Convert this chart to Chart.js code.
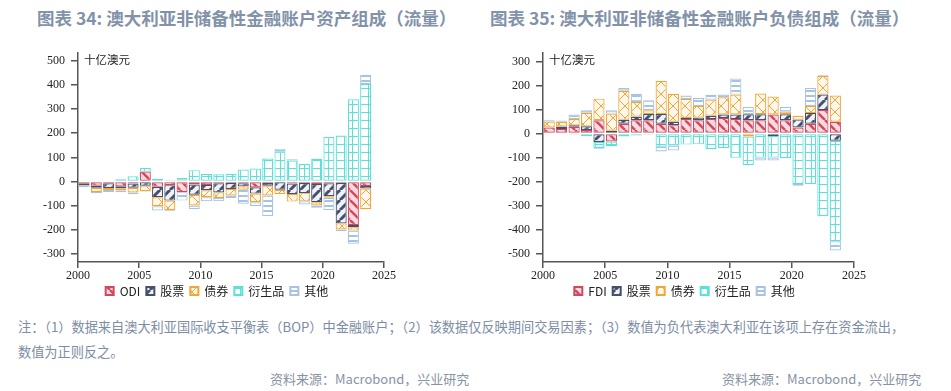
<!DOCTYPE html>
<html>
<head>
<meta charset="utf-8">
<script src="https://cdn.jsdelivr.net/npm/chart.js@4/dist/chart.umd.min.js"></script>
<style>
  body { margin: 0; width: 951px; height: 391px; background: #fff; position: relative; overflow: hidden;
         font-family: 'Noto Sans CJK SC', 'Noto Sans', sans-serif; }
  .title { position: absolute; top: 5px; font-size: 17.5px; font-weight: bold; color: #8192a9; white-space: nowrap; }
  .box { position: absolute; top: 40px; }
  .note { position: absolute; left: 18px; font-size: 13.2px; color: #7c8da4; white-space: nowrap; }
  .src { position: absolute; top: 369px; font-size: 13px; color: #8893a4; white-space: nowrap; }
</style>
</head>
<body>
<div class="title" style="left:37px">图表 34: 澳大利亚非储备性金融账户资产组成（流量）</div>
<div class="title" style="left:490px">图表 35: 澳大利亚非储备性金融账户负债组成（流量）</div>
<div class="box" style="left:0; width:434px; height:267px"><canvas id="chartAssets"></canvas></div>
<div class="box" style="left:475px; width:420px; height:267px"><canvas id="chartLiabs"></canvas></div>
<div class="note" style="top:317px">注：（1）数据来自澳大利亚国际收支平衡表（BOP）中金融账户；（2）该数据仅反映期间交易因素；（3）数值为负代表澳大利亚在该项上存在资金流出，</div>
<div class="note" style="top:342px">数值为正则反之。</div>
<div class="src" style="left:270px">资料来源：Macrobond，兴业研究</div>
<div class="src" style="left:722px">资料来源：Macrobond，兴业研究</div>
<script>
const years = [2000, 2001, 2002, 2003, 2004, 2005, 2006, 2007, 2008, 2009, 2010, 2011,
               2012, 2013, 2014, 2015, 2016, 2017, 2018, 2019, 2020, 2021, 2022, 2023];

// 资产 (十亿澳元)
const assetODI    = [-7, -17, -7, -20, -8, 41, -22, -15, -44, -12, -14, -7, -6, -7, -24, -6, -3, -8, -6, -10, -7, -6, -180, -18];
const assetEquity = [-8, -9, -20, -8, -18, -17, -43, -64, 4, -43, -22, -38, -25, -13, -26, -11, -31, -44, -42, -76, -54, -167, -9, -11];
const assetBond   = [-3, -17, -8, -9, -19, -23, -37, -40, 3, -44, -29, -23, -27, -14, -36, -41, -18, -31, -34, -13, -6, -25, -14, -86];
const assetDeriv  = [2, 4, 3, 9, 22, 16, 12, 5, 8, 47, 31, 30, 32, 50, 54, 95, 125, 87, 73, 94, 184, 190, 340, 404];
const assetOther  = [-6, -5, -8, -7, -8, -2, -18, -4, -35, -15, -17, -14, -10, -58, -15, -85, 11, 5, -13, -9, -52, -8, -54, 38];

// 负债 (十亿澳元)
const liabFDI    = [25, 19, 28, 15, 55, -33, 41, 55, 55, 41, 35, 60, 55, 60, 65, 60, 55, 55, 79, 55, 25, 41, 98, 49];
const liabEquity = [0, 10, 6, 15, -35, 12, 16, 15, 26, 40, 14, 5, 11, 14, 14, 19, 25, 25, -10, 25, 33, 44, 64, -30];
const liabBond   = [25, 20, 26, 56, 90, 71, 121, 61, 16, 138, 116, 79, 49, 67, 72, 83, -12, 86, 75, 11, 16, 30, 78, 109];
const liabDeriv  = [3, 0, -5, -10, -25, -20, -12, -8, -5, -55, -50, -46, -45, -64, -60, -101, -119, -100, -90, -103, -210, -210, -343, -418];
const liabOther  = [4, 5, 19, 11, -3, 14, 11, 34, 41, -20, -20, 14, 33, 20, 11, 67, 30, -12, -12, 20, -7, 74, 4, -38];

const tickFont = { family: "'Liberation Serif', 'DejaVu Serif', serif", size: 12 };
const cjkFont = { family: "'Noto Sans CJK SC', sans-serif", size: 12 };

// hatch fills
function makePattern(size, bg, stroke, width, draw) {
    const c = document.createElement('canvas');
    c.width = size; c.height = size;
    const g = c.getContext('2d');
    g.fillStyle = bg;
    g.fillRect(0, 0, size, size);
    g.strokeStyle = stroke;
    g.lineWidth = width;
    g.beginPath();
    draw(g, size);
    g.stroke();
    return g.createPattern(c, 'repeat');
}

const colors = {
    red: '#d2495e', navy: '#44506c', orange: '#f3a634', teal: '#58e2d8', blue: '#a6c3e3'
};

const fills = {
    red: makePattern(10, '#f6dbe0', colors.red, 2.5, (g, s) => {
        for (const o of [-s, 0, s]) { g.moveTo(o, 0); g.lineTo(o + s, s); }
    }),
    navy: makePattern(10, '#f1f2f5', colors.navy, 3, (g, s) => {
        for (const o of [-s, 0, s]) { g.moveTo(o, s); g.lineTo(o + s, 0); }
    }),
    orange: makePattern(12, '#fff7ec', colors.orange, 1, (g, s) => {
        g.moveTo(0, 0); g.lineTo(s, s); g.moveTo(0, s); g.lineTo(s, 0);
    }),
    teal: makePattern(8, '#ffffff', colors.teal, 1, (g, s) => {
        g.moveTo(0.5, 0); g.lineTo(0.5, s); g.moveTo(0, 0.5); g.lineTo(s, 0.5);
    }),
    blue: makePattern(5, '#ffffff', colors.blue, 2, (g, s) => {
        g.moveTo(0, 1); g.lineTo(s, 1);
    })
};

function series(label, vals, key) {
    return {
        label: label,
        data: years.map((yr, i) => ({ x: yr + 0.5, y: vals[i] })),
        backgroundColor: fills[key],
        borderColor: colors[key],
        borderWidth: 1.2,
        borderSkipped: false,
        barPercentage: 0.9,
        categoryPercentage: 1
    };
}

const unitLabel = {
    id: 'unitLabel',
    afterDraw(chart) {
        const { ctx, chartArea } = chart;
        ctx.save();
        ctx.font = "11.5px 'Noto Sans CJK SC', sans-serif";
        ctx.fillStyle = '#222';
        ctx.textBaseline = 'middle';
        ctx.fillText('十亿澳元', chartArea.left + 6, chartArea.top + 6);
        ctx.restore();
    }
};

// move the legend sideways so it sits where the original does
const legendShift = {
    id: 'legendShift',
    afterLayout(chart, args, opts) {
        const lg = chart.legend;
        if (lg) { lg.left += opts.dx; lg.right += opts.dx; }
    }
};

function makeChart(id, datasets, yMin, yMax, yWidth, padRight, dx) {
    const ctx = document.getElementById(id).getContext('2d');
    return new Chart(ctx, {
        type: 'bar',
        data: { datasets: datasets },
        plugins: [unitLabel, legendShift],
        options: {
            responsive: true,
            maintainAspectRatio: false,
            animation: false,
            layout: { padding: { top: 11, left: 0, right: padRight, bottom: 0 } },
            plugins: {
                tooltip: { enabled: false },
                legendShift: { dx: dx },
                legend: {
                    position: 'bottom',
                    labels: {
                        boxWidth: 8, boxHeight: 8, padding: 6, color: '#222', font: cjkFont,
                        generateLabels(chart) {
                            const items = Chart.defaults.plugins.legend.labels.generateLabels(chart);
                            items.forEach(it => { it.lineWidth = 2; });
                            return items;
                        }
                    }
                }
            },
            scales: {
                x: {
                    type: 'linear', stacked: true, offset: false,
                    min: 2000, max: 2025,
                    afterFit: s => { s.height = 17; },
                    grid: { offset: false, drawOnChartArea: false, tickLength: 6, color: '#555', lineWidth: 1.5 },
                    border: { color: '#555', width: 1.5 },
                    ticks: { stepSize: 5, padding: 1, color: '#222', font: tickFont, maxRotation: 0,
                             callback: v => String(v) }
                },
                y: {
                    stacked: true,
                    min: yMin, max: yMax,
                    afterFit: s => { s.width = yWidth; },
                    grid: { drawOnChartArea: false, tickLength: 7, color: '#555', lineWidth: 1.5 },
                    border: { color: '#555', width: 1.5 },
                    ticks: { stepSize: 100, includeBounds: false, padding: 6, color: '#222', font: tickFont }
                }
            }
        }
    });
}

makeChart('chartAssets', [
    series('ODI', assetODI, 'red'),
    series('股票', assetEquity, 'navy'),
    series('债券', assetBond, 'orange'),
    series('衍生品', assetDeriv, 'teal'),
    series('其他', assetOther, 'blue')
], -333, 531, 78, 50, 25);

makeChart('chartLiabs', [
    series('FDI', liabFDI, 'red'),
    series('股票', liabEquity, 'navy'),
    series('债券', liabBond, 'orange'),
    series('衍生品', liabDeriv, 'teal'),
    series('其他', liabOther, 'blue')
], -534, 334, 68, 41, 20);
</script>
</body>
</html>
